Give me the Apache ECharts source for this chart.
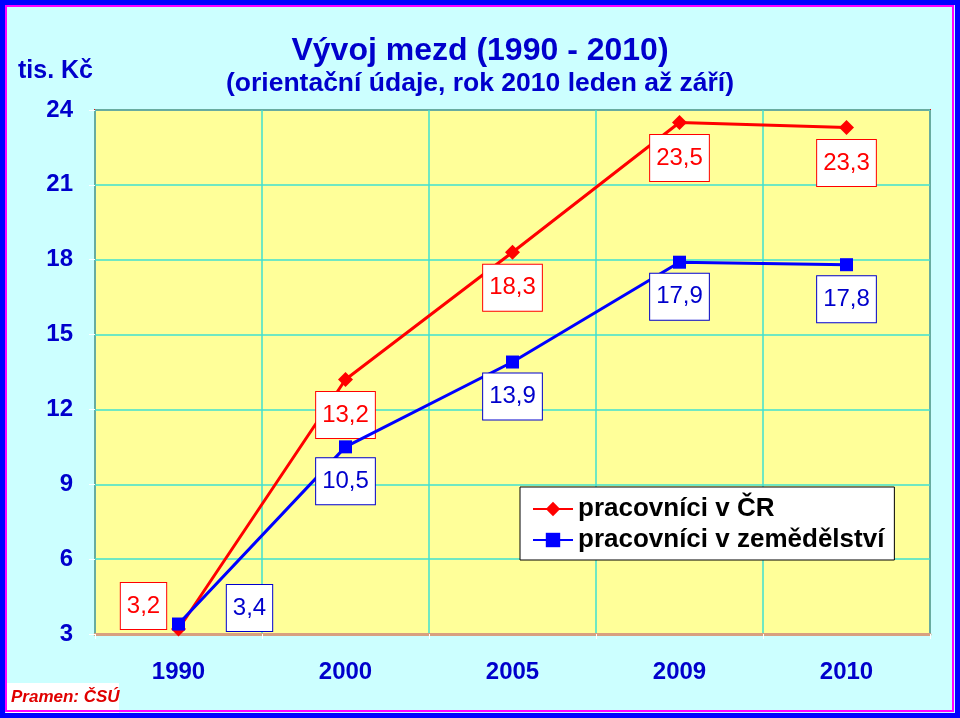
<!DOCTYPE html>
<html>
<head>
<meta charset="utf-8">
<script src="https://cdn.jsdelivr.net/npm/echarts@6/dist/echarts.min.js"></script>
<style>
html,body{margin:0;padding:0;background:#CCFFFF;}
#chart{width:960px;height:718px;}
</style>
</head>
<body>
<div id="chart"></div>
<script>
var categories = ['1990', '2000', '2005', '2009', '2010'];
var seriesCR = [3.2, 13.2, 18.3, 23.5, 23.3];
var seriesZem = [3.4, 10.5, 13.9, 17.9, 17.8];
var seriesNames = ['pracovníci v ČR', 'pracovníci v zemědělství'];
var yTicks = [3, 6, 9, 12, 15, 18, 21, 24];
var titleText = 'Vývoj mezd (1990 - 2010)';
var subTitleText = '(orientační údaje, rok 2010 leden až září)';
var unitText = 'tis. Kč';
var sourceText = 'Pramen: ČSÚ';

var FONT = 'Liberation Sans, Arial, sans-serif';
var RED = '#FF0000';
var BLUE = '#0000FF';
var DARKBLUE = '#0000CC';

function fmt(p) { return String(p.value).replace('.', ','); }

function labelsFor(color, textColor) {
  return {
    show: true,
    position: 'bottom',
    distance: 5,
    formatter: fmt,
    color: textColor,
    fontFamily: FONT,
    fontSize: 24,
    lineHeight: 24,
    backgroundColor: '#FFFFFF',
    borderColor: color,
    borderWidth: 1,
    padding: [11, 6, 11, 6]
  };
}

var redData = seriesCR.map(function (v, i) {
  var d = { value: v };
  if (i === 0) d.label = { position: 'inside', offset: [-35, -23] };
  return d;
});
var blueData = seriesZem.map(function (v, i) {
  var d = { value: v };
  if (i === 0) d.label = { position: 'inside', offset: [71, -16] };
  return d;
});

var chart = echarts.init(document.getElementById('chart'), null, { renderer: 'canvas' });
chart.setOption({
  backgroundColor: '#CCFFFF',
  animation: false,
  title: {
    text: titleText,
    subtext: subTitleText,
    left: 'center',
    top: 29,
    itemGap: 2,
    textStyle: { fontFamily: FONT, fontSize: 32, fontWeight: 'bold', color: DARKBLUE, lineHeight: 34 },
    subtextStyle: { fontFamily: FONT, fontSize: 26.5, fontWeight: 'bold', color: DARKBLUE, lineHeight: 28 }
  },
  legend: {
    orient: 'vertical',
    left: 520,
    top: 487,
    backgroundColor: '#FFFFFF',
    borderColor: '#000000',
    borderWidth: 1,
    padding: [9, 10, 7, 12],
    itemWidth: 40,
    itemHeight: 18,
    itemGap: 5,
    textStyle: { fontFamily: FONT, fontSize: 26, fontWeight: 'bold', color: '#000000', lineHeight: 26 },
    data: seriesNames
  },
  grid: {
    left: 95, right: 30, top: 110, bottom: 84,
    show: true,
    backgroundColor: '#FFFF99',
    borderColor: '#E01010',
    borderWidth: 2
  },
  xAxis: {
    type: 'category',
    data: categories,
    boundaryGap: true,
    axisLine: { show: true, lineStyle: { color: '#D8A080', width: 3 } },
    axisTick: { show: true, length: 5, lineStyle: { color: '#FFFFFF', width: 1 } },
    axisLabel: { margin: 26, fontFamily: FONT, fontSize: 24, fontWeight: 'bold', color: DARKBLUE },
    splitLine: { show: true, lineStyle: { color: '#40E0D0', width: 1.5 } }
  },
  yAxis: {
    type: 'value',
    min: yTicks[0],
    max: yTicks[yTicks.length - 1],
    interval: 3,
    axisLine: { show: false },
    axisTick: { show: true, length: 6, lineStyle: { color: '#FFFFFF', width: 1 } },
    axisLabel: { margin: 22, fontFamily: FONT, fontSize: 24, fontWeight: 'bold', color: DARKBLUE },
    splitLine: { show: true, lineStyle: { color: '#40E0D0', width: 1.5 } }
  },
  series: [
    {
      name: seriesNames[0],
      type: 'line',
      data: redData,
      symbol: 'diamond',
      symbolSize: 15,
      clip: false,
      itemStyle: { color: RED },
      lineStyle: { color: RED, width: 3 },
      label: labelsFor(RED, RED),
      z: 3
    },
    {
      name: seriesNames[1],
      type: 'line',
      data: blueData,
      symbol: 'rect',
      symbolSize: 13,
      clip: false,
      itemStyle: { color: BLUE },
      lineStyle: { color: BLUE, width: 3 },
      label: labelsFor(DARKBLUE, DARKBLUE),
      z: 4
    }
  ],
  graphic: [
    {
      type: 'text', left: 18, top: 59, z: 10,
      style: { text: unitText, fontFamily: FONT, fontSize: 25, fontWeight: 'bold', fill: DARKBLUE }
    },
    {
      type: 'rect', z: 10,
      shape: { x: 6, y: 683, width: 113, height: 30 },
      style: { fill: '#FFFFFF' }
    },
    {
      type: 'text', left: 11, top: 689, z: 11,
      style: { text: sourceText, fontFamily: FONT, fontSize: 17, fontWeight: 'bold', fontStyle: 'italic', fill: '#E00000' }
    },
    {
      type: 'rect', z: 20, silent: true,
      shape: { x: 6, y: 6, width: 947, height: 705 },
      style: { fill: null, stroke: '#FF00FF', lineWidth: 2 }
    },
    {
      type: 'rect', z: 21, silent: true,
      shape: { x: 2.5, y: 2.5, width: 955, height: 713 },
      style: { fill: null, stroke: '#0000FF', lineWidth: 5 }
    }
  ]
});
</script>
</body>
</html>
